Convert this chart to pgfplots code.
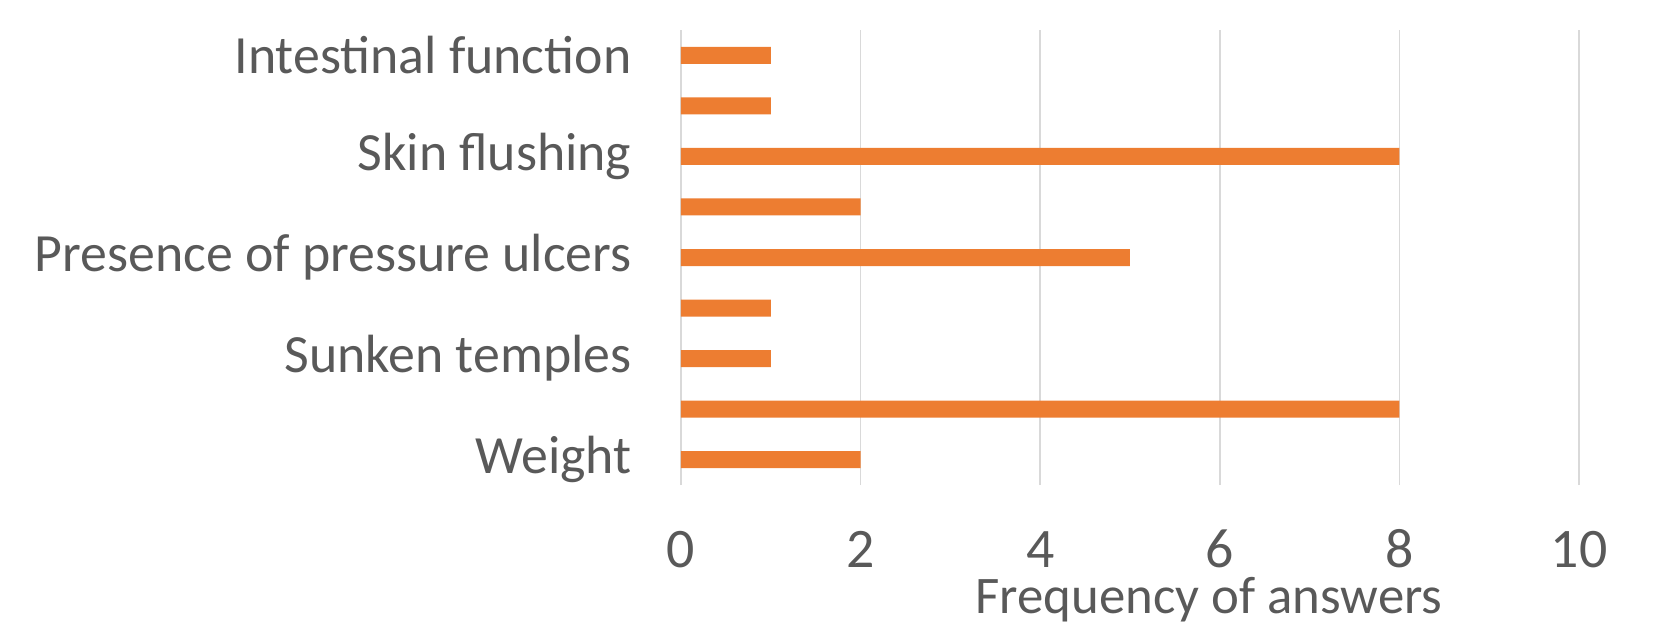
\documentclass[border=0pt]{standalone}
\usepackage{pgfplots}
\pgfplotsset{compat=1.18}
\usepackage{fontspec}
\setmainfont{Carlito}
\definecolor{barorange}{HTML}{ED7D31}
\definecolor{txtgray}{HTML}{595959}
\definecolor{gridgray}{HTML}{D9D9D9}
\begin{document}
\begin{tikzpicture}
\path[use as bounding box] (-681bp,-142bp) rectangle (972bp,485bp);
\begin{axis}[
  at={(0,0)}, anchor=south west,
  scale only axis,
  width=898bp, height=455bp,
  xbar, bar width=17bp,
  xmin=0, xmax=10,
  ymin=-0.5, ymax=8.5,
  xtick={0,2,...,10},
  ytick={0,...,8},
  yticklabels={Weight,,Sunken temples,,Presence of pressure ulcers,,Skin flushing,,Intestinal function},
  axis line style={draw=none},
  major tick length=0pt,
  xmajorgrids,
  grid style={gridgray, line width=1.6bp},
  /pgf/number format/assume math mode=true,
  xticklabel style={font=\fontsize{56}{66}\selectfont, text=txtgray, anchor=base, inner sep=0pt, yshift=-82bp},
  yticklabel style={font=\fontsize{54}{65}\selectfont, text=txtgray, xshift=-46bp},
  xlabel={Frequency of answers},
  xlabel style={font=\fontsize{53}{64}\selectfont, text=txtgray, at={(axis description cs:0.588,0)}, anchor=base, inner sep=0pt, yshift=-128bp},
]
\addplot[fill=barorange, draw=none] coordinates {
 (2,0) (8,1) (1,2) (1,3) (5,4) (2,5) (8,6) (1,7) (1,8)
};
\end{axis}
\end{tikzpicture}
\end{document}
